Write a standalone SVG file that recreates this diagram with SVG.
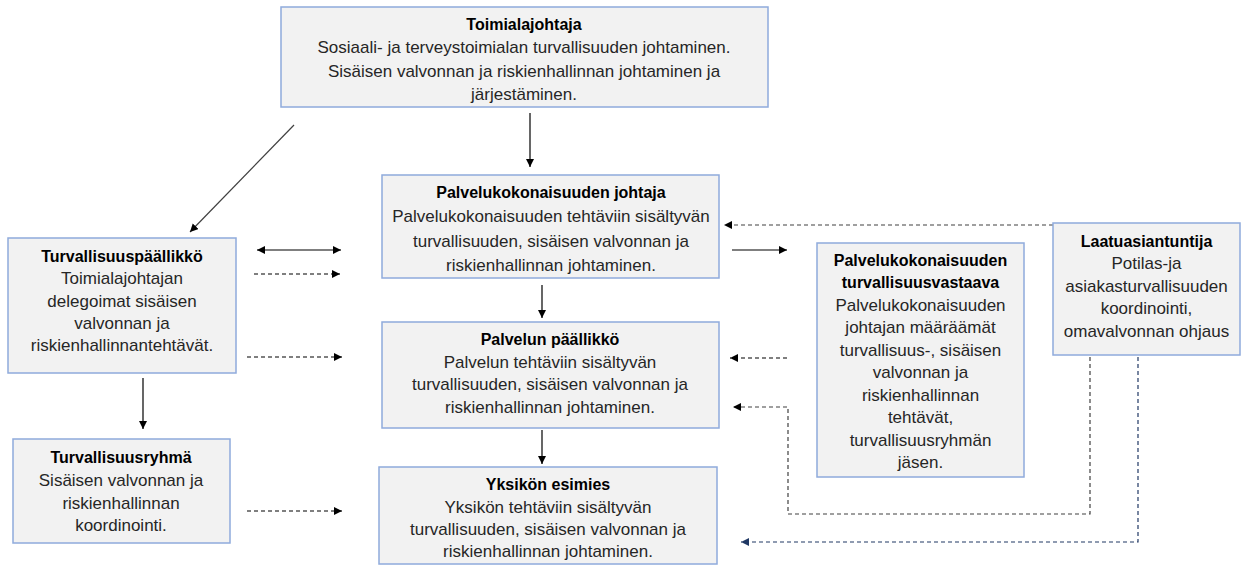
<svg xmlns="http://www.w3.org/2000/svg" width="1245" height="565" viewBox="0 0 1245 565">
<style>
.box{fill:#F2F2F2;stroke:#8FAADC;stroke-width:1.5}
text{font-family:"Liberation Sans",Arial,sans-serif;font-size:17px;fill:#262626;text-anchor:middle}
.t{font-weight:bold;font-size:16px;fill:#000}
.c{fill:none;stroke:#000;stroke-width:1.2}
.d{stroke-dasharray:4,3}
.g{stroke:#404040}
.b{stroke:#203864}
</style>
<defs>
<marker id="ah" markerUnits="userSpaceOnUse" markerWidth="9" markerHeight="9" refX="8" refY="4" orient="auto-start-reverse"><path d="M0,0 L8,4 L0,8 z" fill="#000"/></marker>
<marker id="ahb" markerUnits="userSpaceOnUse" markerWidth="9" markerHeight="9" refX="8" refY="4" orient="auto"><path d="M0,0 L8,4 L0,8 z" fill="#203864"/></marker>
</defs>
<rect width="1245" height="565" fill="#fff"/>
<g id="connectors">
<line class="c" x1="530" y1="113" x2="530" y2="167" marker-end="url(#ah)"/>
<line class="c g" x1="294" y1="125" x2="190" y2="232" marker-end="url(#ah)"/>
<line class="c" x1="257" y1="250" x2="341" y2="250" marker-start="url(#ah)" marker-end="url(#ah)"/>
<line class="c d" x1="254" y1="274" x2="340" y2="274" marker-end="url(#ah)"/>
<line class="c d" x1="247" y1="357" x2="342" y2="357" marker-end="url(#ah)"/>
<line class="c" x1="143" y1="378" x2="143" y2="429" marker-end="url(#ah)"/>
<line class="c d" x1="247" y1="511" x2="342" y2="511" marker-end="url(#ah)"/>
<line class="c" x1="542" y1="285" x2="542" y2="318" marker-end="url(#ah)"/>
<line class="c" x1="542" y1="430" x2="542" y2="464" marker-end="url(#ah)"/>
<line class="c" x1="732" y1="250" x2="787" y2="250" marker-end="url(#ah)"/>
<line class="c d g" x1="1053" y1="225" x2="724" y2="225" marker-end="url(#ah)"/>
<line class="c d" x1="787" y1="358" x2="730" y2="358" marker-end="url(#ah)"/>
<path class="c d g" d="M1090,357 V514 H788 V407 H733" marker-end="url(#ah)"/>
<path class="c d b" d="M1138,357 V542 H741" marker-end="url(#ahb)"/>
</g>
<g id="toimialajohtaja">
<rect class="box" x="281" y="7" width="487" height="100"/>
<text x="524" y="30" class="t">Toimialajohtaja</text>
<text x="524" y="53">Sosiaali- ja terveystoimialan turvallisuuden johtaminen.</text>
<text x="524" y="77">Sisäisen valvonnan ja riskienhallinnan johtaminen ja</text>
<text x="524" y="100">järjestäminen.</text>
</g>
<g id="palvelukokonaisuuden-johtaja">
<rect class="box" x="382" y="175" width="337" height="103"/>
<text x="551" y="198" class="t">Palvelukokonaisuuden johtaja</text>
<text x="551" y="222">Palvelukokonaisuuden tehtäviin sisältyvän</text>
<text x="551" y="246.5">turvallisuuden, sisäisen valvonnan ja</text>
<text x="551" y="271">riskienhallinnan johtaminen.</text>
</g>
<g id="turvallisuuspaallikko">
<rect class="box" x="8" y="238" width="228" height="135"/>
<text x="122" y="261.5" class="t">Turvallisuuspäällikkö</text>
<text x="122" y="284">Toimialajohtajan</text>
<text x="122" y="306.5">delegoimat sisäisen</text>
<text x="122" y="328.5">valvonnan ja</text>
<text x="122" y="351">riskienhallinnantehtävät.</text>
</g>
<g id="turvallisuusryhma">
<rect class="box" x="13" y="439" width="217" height="104"/>
<text x="121" y="462.5" class="t">Turvallisuusryhmä</text>
<text x="121" y="485.5">Sisäisen valvonnan ja</text>
<text x="121" y="508.5">riskienhallinnan</text>
<text x="121" y="530.5">koordinointi.</text>
</g>
<g id="palvelun-paallikko">
<rect class="box" x="382" y="322" width="337" height="106"/>
<text x="550" y="344.5" class="t">Palvelun päällikkö</text>
<text x="550" y="367.5">Palvelun tehtäviin sisältyvän</text>
<text x="550" y="390">turvallisuuden, sisäisen valvonnan ja</text>
<text x="550" y="412.5">riskienhallinnan johtaminen.</text>
</g>
<g id="yksikon-esimies">
<rect class="box" x="379" y="467" width="338" height="97"/>
<text x="548" y="489.5" class="t">Yksikön esimies</text>
<text x="548" y="512.5">Yksikön tehtäviin sisältyvän</text>
<text x="548" y="534.5">turvallisuuden, sisäisen valvonnan ja</text>
<text x="548" y="556.5">riskienhallinnan johtaminen.</text>
</g>
<g id="turvallisuusvastaava">
<rect class="box" x="817" y="243" width="207" height="234"/>
<text x="920.5" y="265.5" class="t">Palvelukokonaisuuden</text>
<text x="920.5" y="288" class="t">turvallisuusvastaava</text>
<text x="920.5" y="310.5">Palvelukokonaisuuden</text>
<text x="920.5" y="333">johtajan määräämät</text>
<text x="920.5" y="355.5">turvallisuus-, sisäisen</text>
<text x="920.5" y="378">valvonnan ja</text>
<text x="920.5" y="400.5">riskienhallinnan</text>
<text x="920.5" y="423">tehtävät,</text>
<text x="920.5" y="445.5">turvallisuusryhmän</text>
<text x="920.5" y="468">jäsen.</text>
</g>
<g id="laatuasiantuntija">
<rect class="box" x="1053" y="223" width="187" height="132"/>
<text x="1146.5" y="246.5" class="t">Laatuasiantuntija</text>
<text x="1146.5" y="269">Potilas-ja</text>
<text x="1146.5" y="291.5">asiakasturvallisuuden</text>
<text x="1146.5" y="314">koordinointi,</text>
<text x="1146.5" y="336.5">omavalvonnan ohjaus</text>
</g>
</svg>
